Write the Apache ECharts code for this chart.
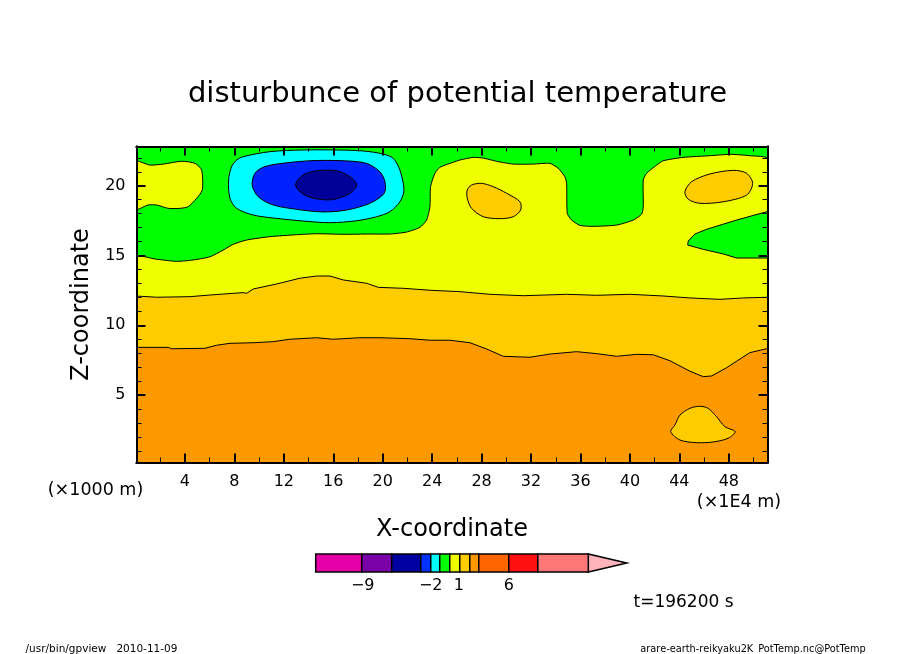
<!DOCTYPE html>
<html>
<head>
<meta charset="utf-8">
<title>disturbunce of potential temperature</title>
<script src="https://cdn.jsdelivr.net/npm/echarts@6/dist/echarts.min.js"></script>
<style>
html,body{margin:0;padding:0;background:#fff;}
#main{width:904px;height:654px;}
</style>
</head>
<body>
<div id="main"></div>
<script>
// tick values
var xMajor = [4, 8, 12, 16, 20, 24, 28, 32, 36, 40, 44, 48];
var xMinor = [2, 6, 10, 14, 18, 22, 26, 30, 34, 38, 42, 46, 50];
var zMajor = [5, 10, 15, 20];
var zMinor = [1, 2, 3, 4, 6, 7, 8, 9, 11, 12, 13, 14, 16, 17, 18, 19, 21, 22];

// colour bar levels, labels sit at the read positions
var barLevels = [-13.4, -8.8, -5.8, -2.9, -1.9, -1, 0, 1, 2, 2.9, 5.9, 8.8, 13.85];
var barLabels = [-8.7, -1.9, 0.9, 5.9];
var barTip = [[13.85, 0], [13.85, 1], [17.7, 0.5]];

// contours, [x, z]
var yellowTop = [[0,14.87],[1.71,14.73],[3.32,14.58],[4.67,14.68],[6.02,14.91],[7.10,15.39],[7.90,15.80],[8.99,16.11],[10.87,16.35],[13.03,16.49],[14.65,16.56],[16.80,16.52],[18.96,16.54],[20.58,16.54],[21.93,16.68],[23.01,17.02],[23.55,17.54],[23.82,18.50],[23.87,19.93],[24.22,20.89],[24.63,21.32],[25.44,21.60],[26.24,21.84],[27.32,22.03],[28.13,21.98],[29.21,21.75],[30.56,21.55],[32.17,21.55],[33.52,21.60],[34.20,21.25],[34.74,20.64],[34.88,20.17],[34.93,18.02],[35.28,17.54],[35.95,17.16],[37.03,17.09],[38.92,17.18],[40.27,17.54],[40.95,17.97],[41.08,18.50],[41.08,20.41],[41.35,20.89],[42.16,21.48],[42.69,21.79],[44.31,22.03],[46.47,22.15],[48.09,22.25],[49.70,22.15],[51.2,21.89],[51.2,0],[0,0]];
var greenWedge = [[51.2,18.17],[48.63,17.54],[46.21,16.88],[45.26,16.54],[44.72,16.04],[44.67,15.75],[45.93,15.44],[47.55,15.11],[48.63,14.82],[51.2,14.82]];
var yellowLeft = [[0,21.72],[1.17,21.48],[2.24,21.55],[3.73,21.75],[4.81,21.60],[5.35,21.12],[5.40,19.69],[4.94,19.10],[4.26,18.50],[3.59,18.38],[2.65,18.38],[1.71,18.62],[1.03,18.62],[0,18.33]];
var cyanBlob = [[8.71,22.08],[10.87,22.44],[13.57,22.56],[16.27,22.56],[18.42,22.49],[20.04,22.27],[20.85,21.96],[21.39,21.12],[21.72,19.69],[21.39,18.85],[20.58,18.14],[19.51,17.78],[17.89,17.49],[15.73,17.35],[13.57,17.47],[11.42,17.66],[9.52,17.90],[8.18,18.38],[7.64,19.10],[7.53,20.41],[7.77,21.36],[8.18,21.84]];
var blueBlob = [[11.42,21.55],[14.11,21.79],[16.80,21.79],[18.70,21.60],[19.77,21.00],[20.18,20.29],[20.12,19.46],[18.96,18.74],[17.08,18.26],[15.18,18.12],[13.03,18.31],[11.14,18.62],[9.93,19.21],[9.44,20.05],[9.66,20.89],[10.33,21.32]];
var darkBlob = [[13.57,20.77],[14.65,21.07],[16.27,21.07],[17.35,20.64],[17.89,20.05],[17.35,19.46],[16.27,19.07],[15.46,18.98],[14.11,19.17],[13.30,19.57],[12.95,20.12]];
var goldTop = [[0,12.10],[1.71,12.01],[4.40,12.05],[6.02,12.17],[8.71,12.34],[8.99,12.29],[9.52,12.60],[11.42,12.96],[13.30,13.37],[14.65,13.53],[15.73,13.53],[16.80,13.25],[18.70,13.01],[19.64,12.72],[21.66,12.65],[23.82,12.51],[26.24,12.41],[28.67,12.22],[31.37,12.12],[34.88,12.22],[37.31,12.15],[40.00,12.22],[42.69,12.10],[44.85,11.96],[47.28,11.86],[49.17,11.96],[51.2,12.01],[51.2,0],[0,0]];
var goldIslandA = [[26.84,19.69],[27.19,20.05],[28.00,20.17],[28.94,19.93],[30.02,19.46],[31.10,18.85],[31.16,18.26],[30.56,17.78],[29.48,17.64],[28.13,17.78],[27.19,18.38],[26.84,19.10]];
var goldIslandB = [[44.45,19.57],[44.99,20.29],[46.47,20.84],[48.36,21.10],[49.44,20.89],[49.93,20.17],[49.44,19.33],[47.55,18.85],[45.66,18.74],[44.72,19.03]];
var orangeTop = [[0,8.42],[2.65,8.42],[2.92,8.32],[5.61,8.35],[6.56,8.57],[7.64,8.71],[9.52,8.75],[11.14,8.83],[12.49,9.00],[14.65,9.11],[16.00,9.00],[18.16,9.11],[19.77,9.11],[22.20,9.04],[23.82,8.93],[25.44,8.93],[27.06,8.75],[28.41,8.30],[29.75,7.78],[31.91,7.71],[33.52,7.94],[35.69,8.11],[37.31,7.97],[38.92,7.78],[40.54,7.92],[41.88,7.89],[43.24,7.46],[44.85,6.71],[45.93,6.32],[46.61,6.37],[47.82,6.96],[49.70,8.04],[51.2,8.35],[51.2,0],[0,0]];
var goldIslandC = [[44.05,3.57],[44.85,4.05],[45.66,4.20],[46.33,4.05],[47.01,3.45],[47.68,2.74],[48.51,2.38],[47.95,1.91],[46.74,1.64],[45.39,1.59],[44.05,1.78],[43.30,2.38],[43.64,2.86]];

// colours
var GREEN = '#00ff00', YELLOW = '#f0ff00', GOLD = '#ffcc00', ORANGE = '#ff9900';
var barColors = ['#e600a8', '#7a00a8', '#0000a0', '#0033ff', '#00ffff', '#00ff00', '#f0ff00', '#ffcc00', '#ff9900', '#ff6600', '#ff1111', '#ff7777'];
var FONT = 'DejaVu Sans';

// painted back to front over the green background
var layers = [
    {pts: yellowTop, color: YELLOW, smooth: 0.2},
    {pts: greenWedge, color: GREEN},
    {pts: yellowLeft, color: YELLOW, smooth: 0.25},
    {pts: cyanBlob, color: '#00ffff', smooth: 0.3},
    {pts: blueBlob, color: '#0022ff', smooth: 0.3},
    {pts: darkBlob, color: '#000099', smooth: 0.3},
    {pts: goldTop, color: GOLD},
    {pts: goldIslandA, color: GOLD, smooth: 0.3},
    {pts: goldIslandB, color: GOLD, smooth: 0.3},
    {pts: orangeTop, color: ORANGE},
    {pts: goldIslandC, color: GOLD, smooth: 0.3}
];

var chart = echarts.init(document.getElementById('main'));

function frameAxis(min, max, position, values, len, labelled) {
    return {
        type: 'value', gridIndex: 0, min: min, max: max, position: position, z: 10,
        splitLine: {show: false},
        axisLine: {show: true, onZero: false, lineStyle: {color: '#000', width: 2}},
        axisTick: {show: true, inside: true, length: len, customValues: values, lineStyle: {color: '#000', width: len > 6 ? 2 : 1}},
        axisLabel: labelled ? {show: true, customValues: values, color: '#000', fontFamily: FONT, fontSize: 16, margin: 11} : {show: false}
    };
}

function label(text, x, y, size, extra) {
    var style = {text: text, x: x, y: y, fill: '#000', font: size + 'px "' + FONT + '"', textAlign: 'center', textVerticalAlign: 'middle'};
    return Object.assign({type: 'text', silent: true, style: style}, extra || {});
}

var X0 = 0.08, X1 = 51.13, Z0 = 0.17, Z1 = 22.81;

var xBottom = frameAxis(X0, X1, 'bottom', xMajor, 9, true);
var zLeft = frameAxis(Z0, Z1, 'left', zMajor, 9, true);
xBottom.name = 'X-coordinate';
xBottom.nameLocation = 'middle';
xBottom.nameGap = 55;
xBottom.nameTextStyle = {color: '#000', fontFamily: FONT, fontSize: 24};
zLeft.name = 'Z-coordinate';
zLeft.nameLocation = 'middle';
zLeft.nameGap = 42;
zLeft.nameTextStyle = {color: '#000', fontFamily: FONT, fontSize: 24};

var option = {
    animation: false,
    backgroundColor: '#fff',
    title: {
        text: 'disturbunce of potential temperature',
        left: 452.5, top: 75, textAlign: 'center',
        textStyle: {color: '#000', fontFamily: FONT, fontWeight: 'normal', fontSize: 29}
    },
    grid: [
        {left: 136.5, top: 146.5, width: 631, height: 316},
        {left: 315.7, top: 554, width: 272.6, height: 18}
    ],
    xAxis: [
        xBottom,
        frameAxis(X0, X1, 'bottom', xMinor, 5, false),
        frameAxis(X0, X1, 'top', xMajor, 9, false),
        frameAxis(X0, X1, 'top', xMinor, 5, false),
        {
            type: 'value', gridIndex: 1, min: -13.4, max: 13.85, position: 'bottom',
            splitLine: {show: false}, axisLine: {show: false}, axisTick: {show: false},
            axisLabel: {
                customValues: barLabels, color: '#000', fontFamily: FONT, fontSize: 16, margin: 6,
                formatter: function (v) { return String(Math.round(v)).replace('-', '\u2212'); }
            }
        }
    ],
    yAxis: [
        zLeft,
        frameAxis(Z0, Z1, 'left', zMinor, 5, false),
        frameAxis(Z0, Z1, 'right', zMajor, 9, false),
        frameAxis(Z0, Z1, 'right', zMinor, 5, false),
        {type: 'value', gridIndex: 1, min: 0, max: 1, show: false}
    ],
    series: [
        {
            // green base of the plot area
            type: 'custom', xAxisIndex: 0, yAxisIndex: 0, clip: true, z: 2, silent: true,
            data: [[X0, Z0]],
            renderItem: function (params, api) {
                var a = api.coord([X0, Z1]), b = api.coord([X1, Z0]);
                return {type: 'rect', shape: {x: a[0], y: a[1], width: b[0] - a[0], height: b[1] - a[1]}, style: {fill: GREEN}};
            }
        },
        {
            type: 'custom', xAxisIndex: 0, yAxisIndex: 0, clip: true, z: 3, silent: true,
            data: layers.map(function (l, i) { return [i, 1]; }),
            renderItem: function (params, api) {
                var layer = layers[params.dataIndex];
                return {
                    type: 'polygon',
                    shape: {points: layer.pts.map(function (p) { return api.coord(p); }), smooth: layer.smooth || 0},
                    style: {fill: layer.color, stroke: '#000', lineWidth: 1}
                };
            }
        },
        {
            // colour bar cells
            type: 'custom', xAxisIndex: 4, yAxisIndex: 4, z: 3, silent: true,
            data: barColors.map(function (c, i) { return [barLevels[i], barLevels[i + 1]]; }),
            renderItem: function (params, api) {
                var a = api.coord([api.value(0), 1]), b = api.coord([api.value(1), 0]);
                return {
                    type: 'rect',
                    shape: {x: a[0], y: a[1], width: b[0] - a[0], height: b[1] - a[1]},
                    style: {fill: barColors[params.dataIndex], stroke: '#000', lineWidth: 1.5}
                };
            }
        },
        {
            // over-range tip of the colour bar
            type: 'custom', xAxisIndex: 4, yAxisIndex: 4, z: 2, silent: true,
            data: [[13.85, 0]],
            renderItem: function (params, api) {
                return {
                    type: 'polygon',
                    shape: {points: barTip.map(function (p) { return api.coord(p); })},
                    style: {fill: '#ffb3bb', stroke: '#000', lineWidth: 1.5}
                };
            }
        }
    ],
    graphic: [
        label('(\u00d71000 m)', 95.5, 490, 17.5),
        label('(\u00d71E4 m)', 739, 502, 17.5),
        label('t=196200 s', 683.5, 603, 17),
        label('/usr/bin/gpview   2010-11-09', 101.5, 649, 10.5),
        label('arare-earth-reikyaku2K_PotTemp.nc@PotTemp', 753, 649, 9.8)
    ]
};

chart.setOption(option);
</script>
</body>
</html>
